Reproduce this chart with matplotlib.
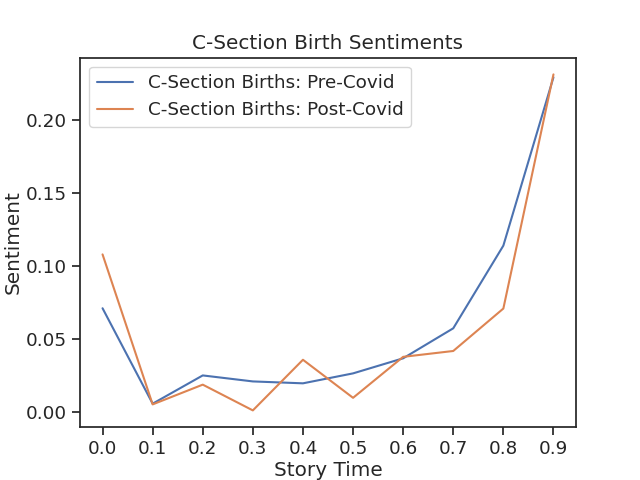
import numpy as np
import matplotlib
matplotlib.use("Agg")
import matplotlib.pyplot as plt
import seaborn as sns

sns.set_theme(style="ticks", font_scale=1.2)

story_time = [0.0, 0.1, 0.2, 0.3, 0.4, 0.5, 0.6, 0.7, 0.8, 0.9]
pre_covid = [0.0712, 0.006, 0.0253, 0.0212, 0.0199, 0.0267, 0.037, 0.0575, 0.114, 0.229]
post_covid = [0.108, 0.0055, 0.019, 0.0014, 0.036, 0.010, 0.038, 0.042, 0.071, 0.231]

fig, ax = plt.subplots(figsize=(6.4, 4.8), dpi=100)
ax.plot(story_time, pre_covid, label="C-Section Births: Pre-Covid")
ax.plot(story_time, post_covid, label="C-Section Births: Post-Covid")
ax.set_xticks(story_time)
ax.set_title("C-Section Birth Sentiments")
ax.set_xlabel("Story Time", labelpad=2)
ax.set_ylabel("Sentiment", labelpad=2)
ax.legend(loc="upper left")
fig.savefig("out.png")
